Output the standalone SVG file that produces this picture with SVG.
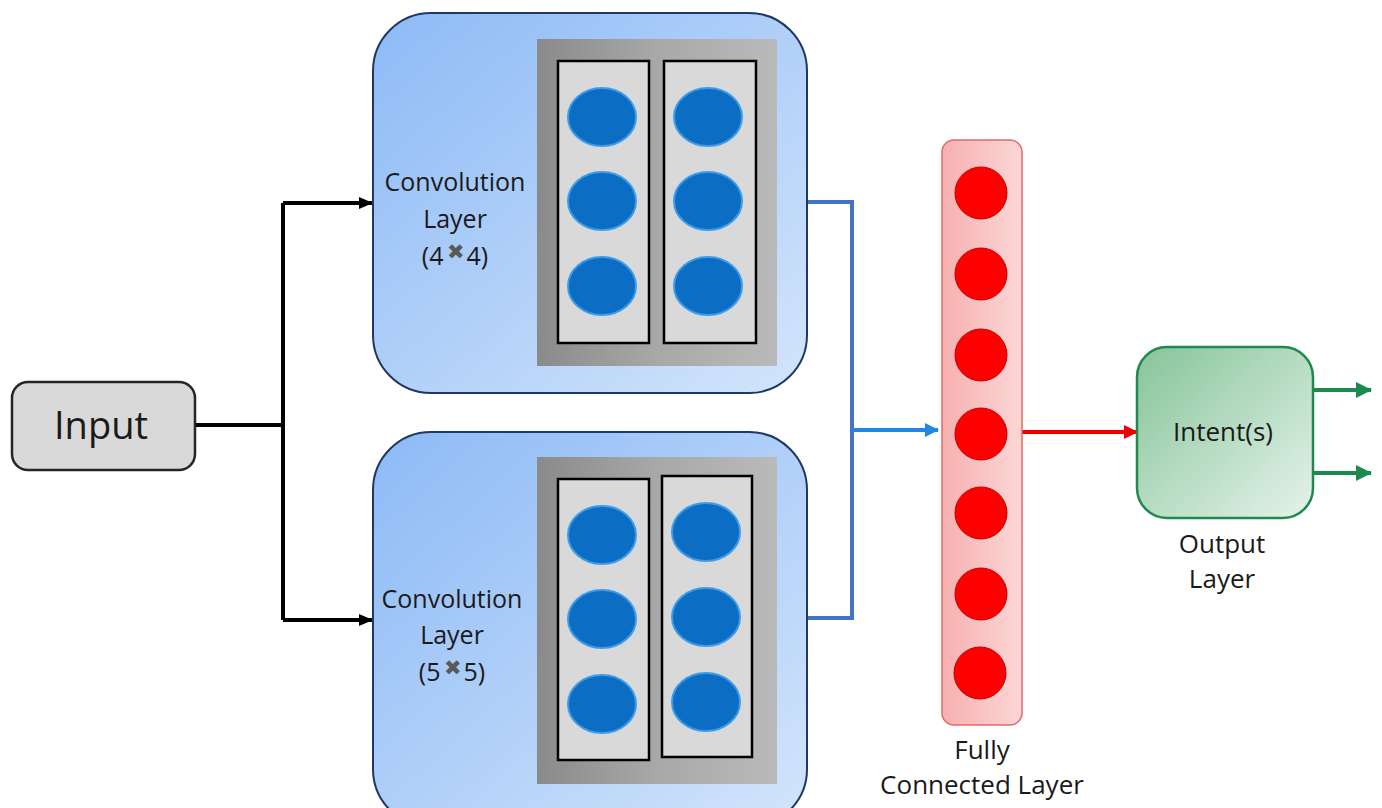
<svg xmlns="http://www.w3.org/2000/svg" width="1382" height="808" viewBox="0 0 1382 808">
<defs>
<linearGradient id="gBlue" x1="0" y1="0" x2="1" y2="1"><stop offset="0" stop-color="#8dbaf6"/><stop offset="1" stop-color="#d3e5fb"/></linearGradient>
<linearGradient id="gGray" x1="0" y1="0" x2="1" y2="0"><stop offset="0" stop-color="#8a8a8a"/><stop offset="0.5" stop-color="#a8a8a8"/><stop offset="1" stop-color="#bababa"/></linearGradient>
<linearGradient id="gRed" x1="0" y1="0" x2="1" y2="0"><stop offset="0" stop-color="#f7b0b0"/><stop offset="1" stop-color="#fcd6d6"/></linearGradient>
<linearGradient id="gGreen" x1="0" y1="0" x2="1" y2="1"><stop offset="0" stop-color="#86c49a"/><stop offset="1" stop-color="#e6f3ea"/></linearGradient>
<marker id="aBlack" markerWidth="14" markerHeight="12" refX="13" refY="6" orient="auto" markerUnits="userSpaceOnUse"><path d="M0,0 L14,6 L0,12 z" fill="#000"/></marker>
<marker id="aBlue" markerWidth="14" markerHeight="14" refX="13" refY="7" orient="auto" markerUnits="userSpaceOnUse"><path d="M0,0 L14,7 L0,14 z" fill="#1e88e5"/></marker>
<marker id="aRed" markerWidth="14" markerHeight="14" refX="13" refY="7" orient="auto" markerUnits="userSpaceOnUse"><path d="M0,0 L14,7 L0,14 z" fill="#ee0000"/></marker>
<marker id="aGreen" markerWidth="16" markerHeight="16" refX="15" refY="8" orient="auto" markerUnits="userSpaceOnUse"><path d="M0,0 L16,8 L0,16 z" fill="#1a8a4e"/></marker>
</defs>
<style>
text{font-family:"Open Sans","Liberation Sans",sans-serif;fill:#1a1a1a;text-anchor:middle}
.conv{fill:url(#gBlue);stroke:#1f3864;stroke-width:2}
.gray{fill:url(#gGray)}
.col{fill:#d9d9d9;stroke:#000;stroke-width:2.5}
.bc{fill:#0b6ec4;stroke:#3d9ce8;stroke-width:2}
.rc{fill:#ff0000;stroke:#c00000;stroke-width:1}
.lbl{font-size:25px}
.lbl2{font-size:26px}
</style>
<g id="connectors" fill="none">
<path d="M195,425 H283 M283,203 V620" stroke="#000" stroke-width="4"/>
<path d="M283,203 H372" stroke="#000" stroke-width="4" marker-end="url(#aBlack)"/>
<path d="M283,620 H372" stroke="#000" stroke-width="4" marker-end="url(#aBlack)"/>
<path d="M808,202 H852 V618 H808" stroke="#4472c4" stroke-width="4"/>
<path d="M852,430 H938" stroke="#1e88e5" stroke-width="4" marker-end="url(#aBlue)"/>
<path d="M1022,432 H1137" stroke="#ee0000" stroke-width="4" marker-end="url(#aRed)"/>
<path d="M1313,390 H1371" stroke="#1a8a4e" stroke-width="4" marker-end="url(#aGreen)"/>
<path d="M1313,473 H1371" stroke="#1a8a4e" stroke-width="4" marker-end="url(#aGreen)"/>
</g>
<g id="input">
<rect x="12" y="382" width="183" height="88" rx="16" fill="#d9d9d9" stroke="#262626" stroke-width="2.5"/>
<text x="101" y="439" font-size="38">Input</text>
</g>
<g id="conv1">
<rect class="conv" x="373" y="13" width="434" height="380" rx="58"/>
<rect class="gray" x="537" y="39" width="240" height="327"/>
<rect class="col" x="558" y="61" width="91" height="282"/>
<rect class="col" x="664" y="61" width="92" height="282"/>
<ellipse class="bc" cx="602" cy="117" rx="34" ry="29"/>
<ellipse class="bc" cx="602" cy="201" rx="34" ry="29"/>
<ellipse class="bc" cx="602" cy="286" rx="34" ry="29"/>
<ellipse class="bc" cx="708" cy="117" rx="34" ry="29"/>
<ellipse class="bc" cx="708" cy="201" rx="34" ry="29"/>
<ellipse class="bc" cx="708" cy="286" rx="34" ry="29"/>
<text class="lbl" x="455" y="191">Convolution</text>
<text class="lbl" x="455" y="228">Layer</text>
<text class="lbl" x="455" y="265">(4<tspan fill="#595959" font-size="21" dy="-6" dx="3">✖</tspan><tspan dy="6" dx="2">4)</tspan></text>
</g>
<g id="conv2">
<rect class="conv" x="373" y="432" width="434" height="395" rx="58"/>
<rect class="gray" x="537" y="457" width="240" height="327"/>
<rect class="col" x="558" y="479" width="91" height="281"/>
<rect class="col" x="662" y="476" width="90" height="281"/>
<ellipse class="bc" cx="602" cy="535" rx="34" ry="29"/>
<ellipse class="bc" cx="602" cy="619" rx="34" ry="29"/>
<ellipse class="bc" cx="602" cy="704" rx="34" ry="29"/>
<ellipse class="bc" cx="706" cy="532" rx="34" ry="29"/>
<ellipse class="bc" cx="706" cy="617" rx="34" ry="29"/>
<ellipse class="bc" cx="706" cy="702" rx="34" ry="29"/>
<text class="lbl" x="452" y="608">Convolution</text>
<text class="lbl" x="452" y="644">Layer</text>
<text class="lbl" x="452" y="681">(5<tspan fill="#595959" font-size="21" dy="-6" dx="3">✖</tspan><tspan dy="6" dx="2">5)</tspan></text>
</g>
<g id="fc">
<rect x="942" y="140" width="80" height="585" rx="12" fill="url(#gRed)" stroke="#e06a6a" stroke-width="1.5"/>
<circle class="rc" cx="981" cy="193" r="26"/>
<circle class="rc" cx="981" cy="274" r="26"/>
<circle class="rc" cx="981" cy="355" r="26"/>
<circle class="rc" cx="981" cy="434" r="26"/>
<circle class="rc" cx="981" cy="513" r="26"/>
<circle class="rc" cx="981" cy="594" r="26"/>
<circle class="rc" cx="980" cy="673" r="26"/>
<text class="lbl2" x="982" y="759">Fully</text>
<text class="lbl2" x="982" y="794">Connected Layer</text>
</g>
<g id="output">
<rect x="1137" y="347" width="176" height="171" rx="30" fill="url(#gGreen)" stroke="#1f8a4c" stroke-width="2.5"/>
<text class="lbl2" x="1223" y="441">Intent(s)</text>
<text class="lbl2" x="1222" y="553">Output</text>
<text class="lbl2" x="1222" y="588">Layer</text>
</g>
</svg>
